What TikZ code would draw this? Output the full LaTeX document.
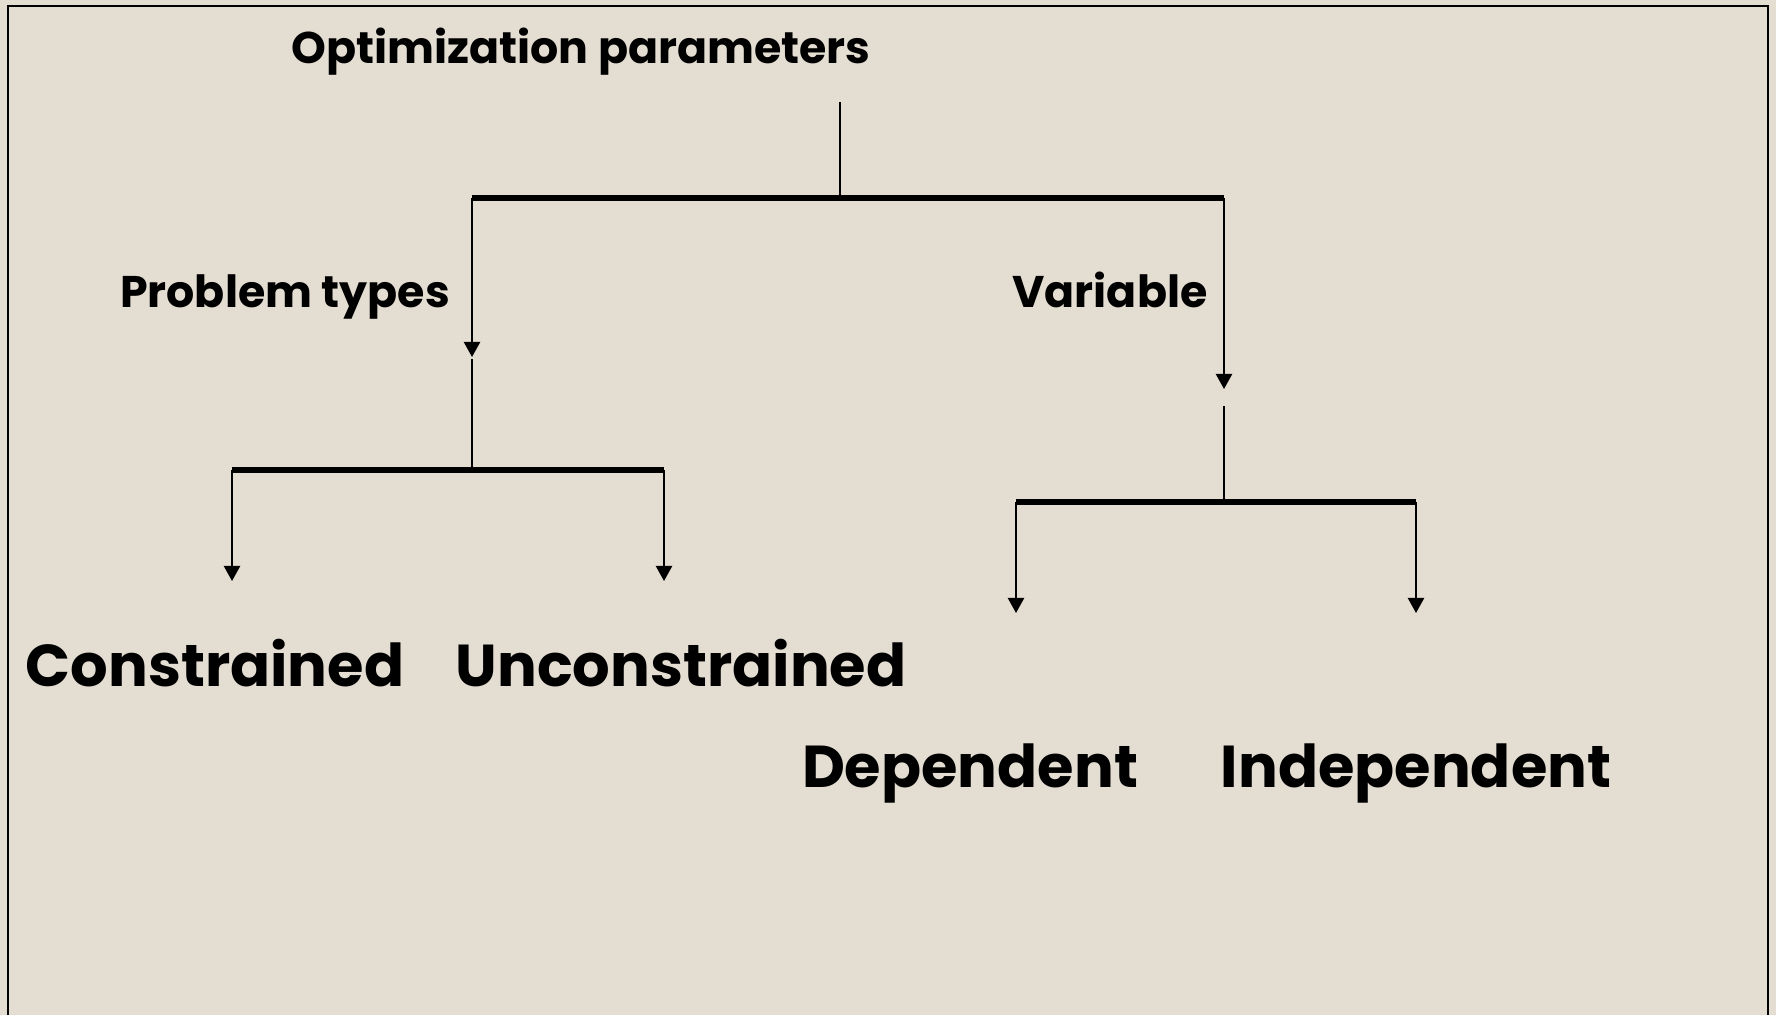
\documentclass[tikz,border=0pt]{standalone}
\usepackage{fontspec}
\setmainfont{Poppins}
\usetikzlibrary{arrows.meta}
\usetikzlibrary{positioning}
\definecolor{paper}{HTML}{E3DDD2}
\tikzset{heading/.style = {font=\bfseries\fontsize{12.6}{15}\selectfont, inner sep=0pt, anchor=base},
         leaf/.style = {font=\bfseries\fontsize{16.8}{20}\selectfont, inner sep=0pt, anchor=base},
         stem/.style = {line width=0.6pt},
         bar/.style = {line width=1.5pt},
         drop/.style = {line width=0.6pt, -{Triangle[length=4.3pt,width=4.6pt]}}}

\begin{document}
\begin{tikzpicture}[x=0.01cm, y=-0.01cm]
      \fill[paper] (0,0) rectangle (1776,1015);
      \useasboundingbox (0,0) rectangle (1776,1015);
      \draw[line width=0.8pt] (8,1015) -- (8,6) -- (1768,6) -- (1768,1015);
      % headings
      \node[heading] (title) at (581,63) {Optimization parameters};
      \node[heading] (ptypes) at (285,307) {Problem types};
      \node[heading] (variable) at (1110,307) {Variable};
      % leaves
      \node[leaf] (constr) at (215,686) {Constrained};
      \node[leaf] (unconstr) at (681,686) {Unconstrained};
      \node[leaf] (dep) at (970,787) {Dependent};
      \node[leaf] (indep) at (1416,787) {Independent};
      % junctions
      \coordinate (root) at (840,102);
      \coordinate (rootbar) at (840,198);
      \coordinate (rl) at (472,198);
      \coordinate (rr) at (1224,198);
      \coordinate (ptip) at (472,357);
      \coordinate (vtip) at (1224,389);
      \coordinate (pstart) at (472,359);
      \coordinate (pbar) at (472,470);
      \coordinate (pl) at (232,470);
      \coordinate (pr) at (664,470);
      \coordinate (ptipl) at (232,581);
      \coordinate (ptipr) at (664,581);
      \coordinate (vstart) at (1224,406);
      \coordinate (vbar) at (1224,502);
      \coordinate (vl) at (1016,502);
      \coordinate (vr) at (1416,502);
      \coordinate (vtipl) at (1016,613);
      \coordinate (vtipr) at (1416,613);
      % first level
      \draw[stem] (root) -- (rootbar);
      \draw[bar] (rl) -- (rr);
      \draw[drop] (rl) -- (ptip);
      \draw[drop] (rr) -- (vtip);
      % problem types
      \draw[stem] (pstart) -- (pbar);
      \draw[bar] (pl) -- (pr);
      \draw[drop] (pl) -- (ptipl);
      \draw[drop] (pr) -- (ptipr);
      % variable
      \draw[stem] (vstart) -- (vbar);
      \draw[bar] (vl) -- (vr);
      \draw[drop] (vl) -- (vtipl);
      \draw[drop] (vr) -- (vtipr);
    \end{tikzpicture}
\end{document}
